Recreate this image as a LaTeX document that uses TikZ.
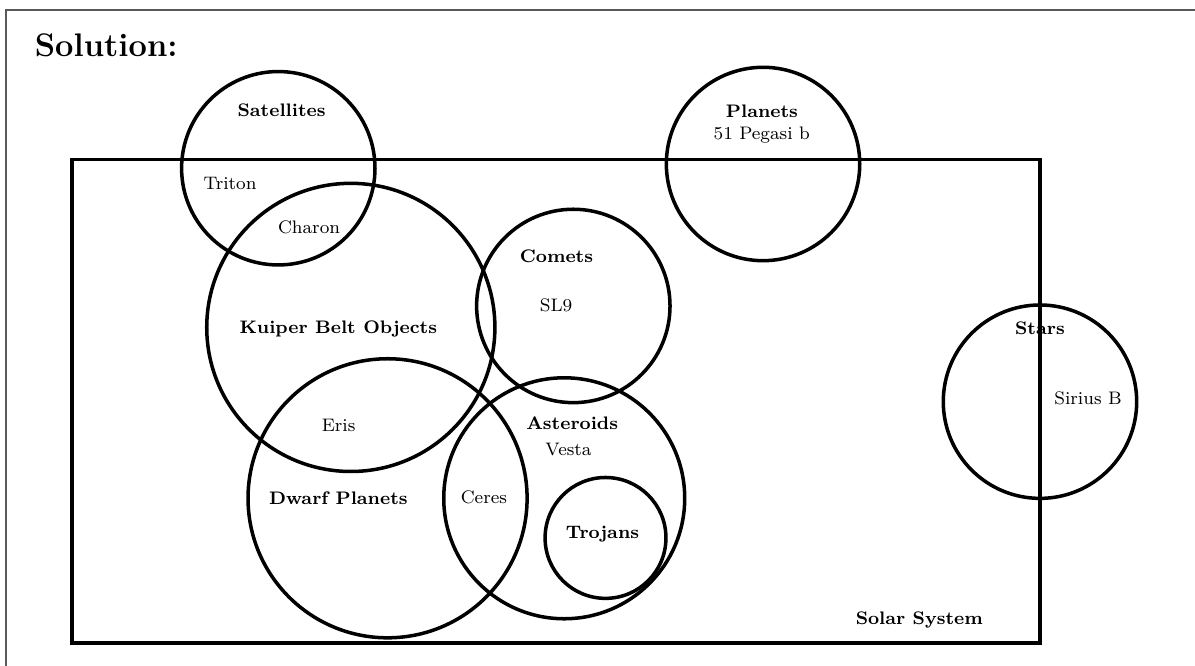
\documentclass[tikz,border=0pt]{standalone}
\begin{document}
\begin{tikzpicture}[scale=1.5,
  conjunto/.style={line width=1.55pt},
  nombre/.style={anchor=base, font=\footnotesize\bfseries},
  miembro/.style={anchor=base, font=\footnotesize}]
  \useasboundingbox (-0.745,-0.238) rectangle (11.613,6.649);
  % Marco exterior
  \draw[gray!70!black, line width=0.6pt]
    (-0.683,-0.238) -- (-0.683,6.546) -- (11.613,6.546);
  % Titulo
  \node[anchor=base west, font=\Large\bfseries, inner sep=0pt] (titulo) at (-0.39,6.06) {Solution:};
  % Universo: Sistema Solar
  \draw[conjunto] (0,0) rectangle (10.01,5);
  \node[nombre] (solar) at (8.762,0.193) {Solar System};
  % Conjuntos
  \draw[conjunto] (2.133,4.909) circle (1);      % satelites
  \draw[conjunto] (7.146,4.953) circle (1);      % planetas
  \draw[conjunto] (5.184,3.485) circle (1);      % cometas
  \draw[conjunto] (10.01,2.495) circle (1);      % estrellas
  \draw[conjunto] (2.883,3.263) circle (1.49);   % cinturon de Kuiper
  \draw[conjunto] (3.263,1.496) circle (1.443);  % planetas enanos
  \draw[conjunto] (5.09,1.496) circle (1.246);   % asteroides
  \draw[conjunto] (5.517,1.086) circle (0.625);  % troyanos
  % Nombres de los conjuntos
  \node[nombre] (satelites) at (2.167,5.443) {Satellites};
  \node[nombre] (planetas) at (7.135,5.437) {Planets};
  \node[nombre] (cometas) at (5.01,3.937) {Comets};
  \node[nombre] (kuiper) at (2.754,3.196) {Kuiper Belt Objects};
  \node[nombre] (estrellas) at (10.01,3.185) {Stars};
  \node[nombre] (asteroides) at (5.172,2.203) {Asteroids};
  \node[nombre] (enanos) at (2.754,1.427) {Dwarf Planets};
  \node[nombre] (troyanos) at (5.486,1.075) {Trojans};
  % Elementos
  \node[miembro] (triton) at (1.634,4.685) {Triton};
  \node[miembro] (caronte) at (2.451,4.230) {Charon};
  \node[miembro] (pegasi) at (7.132,5.202) {51 Pegasi b};
  \node[miembro] (sl9) at (5.005,3.426) {SL9};
  \node[miembro] (eris) at (2.757,2.185) {Eris};
  \node[miembro] (sirio) at (10.507,2.461) {Sirius B};
  \node[miembro] (vesta) at (5.134,1.934) {Vesta};
  \node[miembro] (ceres) at (4.259,1.437) {Ceres};
\end{tikzpicture}
\end{document}
